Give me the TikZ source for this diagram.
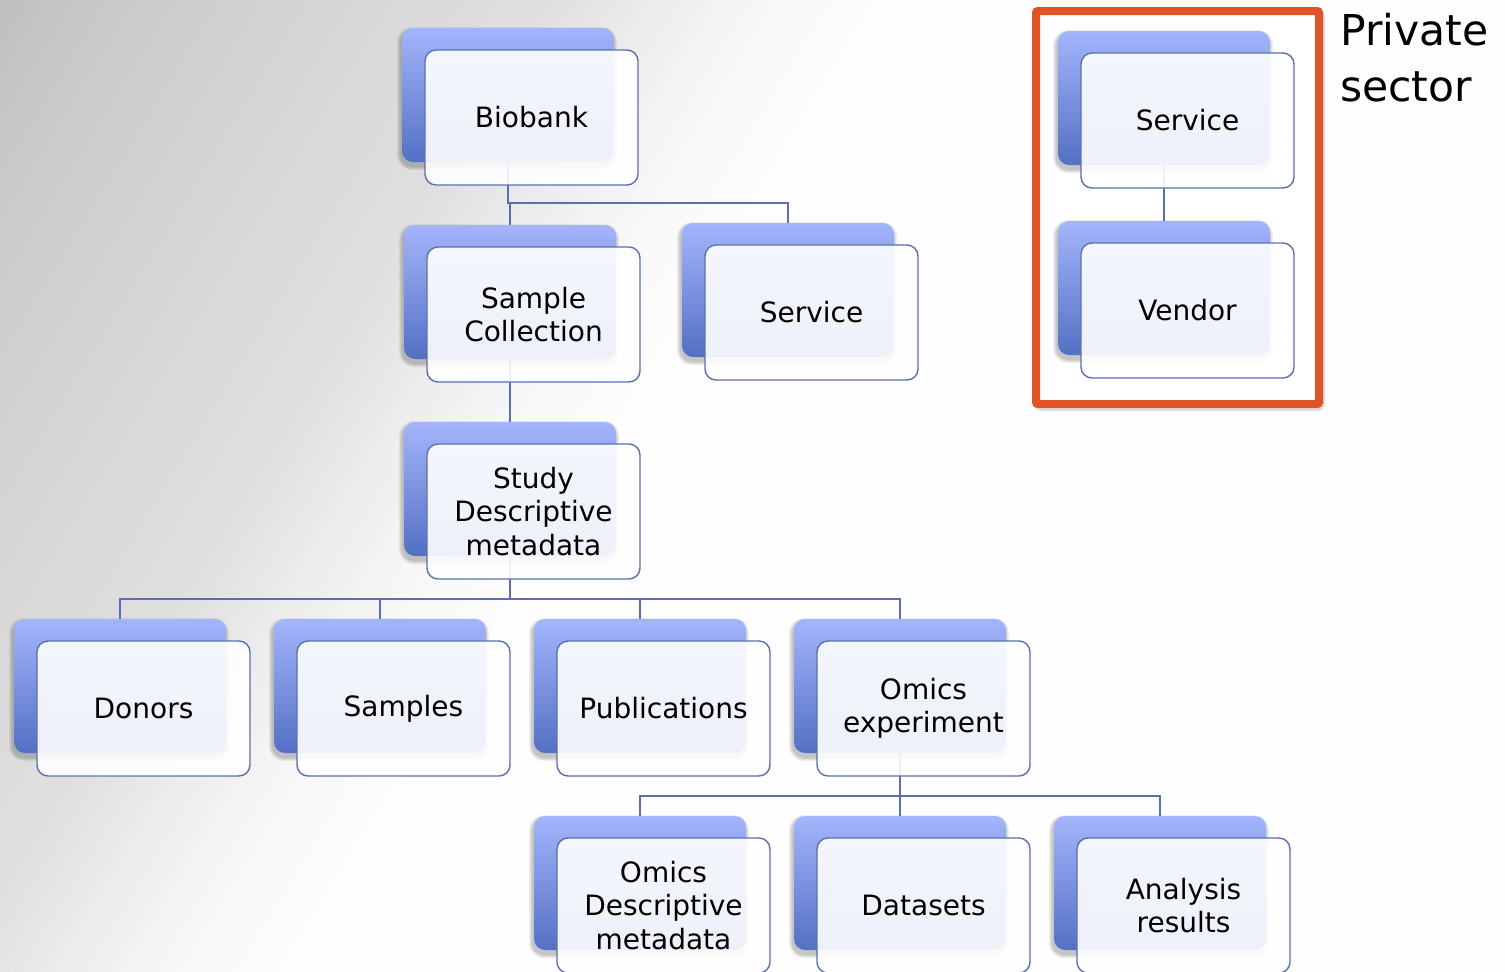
\documentclass[tikz,border=0pt]{standalone}
\usepackage{fontspec}
\setmainfont{DejaVu Sans}

\definecolor{boxedge}{HTML}{5B6FB0}
\definecolor{backtop}{HTML}{A3B5FB}
\definecolor{backbot}{HTML}{5470C4}
\definecolor{framered}{HTML}{DF5427}

\tikzset{
  backbox/.style={anchor=north west, minimum width=212pt, minimum height=134pt,
    inner sep=0pt, outer sep=0pt, rounded corners=11pt,
    top color=backtop, bottom color=backbot},
  cardshadow/.style={fill=black, fill opacity=0.06},
  frontbox/.style={anchor=north west, minimum width=213pt, minimum height=135pt,
    inner sep=0pt, outer sep=0pt, rounded corners=11pt,
    draw=boxedge, line width=1.4pt, fill=white, fill opacity=0.9, text opacity=1,
    align=center, font=\fontsize{28}{33.5}\selectfont},
  link/.style={draw=boxedge, line width=1.6pt},
  frame/.style={anchor=north west, draw=framered, line width=8pt, rounded corners=2pt,
    minimum width=283pt, minimum height=393pt, inner sep=0pt, outer sep=0pt, fill=white},
  frameshadow/.style={draw=black, line width=8pt, rounded corners=3pt, draw opacity=0.12},
}

% rear card with a soft shadow: #1 name, #2/#3 top-left corner
\newcommand\orgback[3]{%
  \foreach \e in {1,2,3,4}{%
    \fill[cardshadow, rounded corners={11pt+\e pt}]
      ({#2-1-\e},{#3+3-\e}) rectangle ({#2+211+\e},{#3+138+\e});
  }
  \node[backbox] (#1-b) at (#2,#3) {};
}
% front card with the label: #1 name, #2/#3 top-left corner of the rear card, #4 label
\newcommand\orgfront[4]{%
  \node[frontbox] (#1) at ({#2+23},{#3+22}) {#4};
}

\begin{document}
\begin{tikzpicture}[x=1pt,y=-1pt]
\useasboundingbox (0,0) rectangle (1505,972);

% page backdrop: grey in the upper left, fading to white towards the lower right
\begin{scope}
  \clip (0,0) rectangle (1505,972);
  \fill[white] (0,0) rectangle (1505,972);
  \begin{scope}[rotate=-31.5]
    \foreach \sa/\ga/\sb/\gb in {0/192/130/205, 130/205/320/216, 320/216/470/224,
                                 470/224/560/237, 560/237/660/248, 660/248/780/255}{
      \foreach \k in {0,...,9}{
        \pgfmathsetmacro\su{\sa+(\sb-\sa)*\k/10}
        \pgfmathtruncatemacro\gv{round(\ga+(\gb-\ga)*\k/10)}
        \fill[fill={rgb,255:red,\gv;green,\gv;blue,\gv}] (\su,-2000) rectangle (2500,2000);
      }
    }
  \end{scope}
\end{scope}

% private sector frame
\draw[frameshadow] (1038,14) rectangle (1321,407);
\node[frame] (privframe) at (1036,11) {};
\node[anchor=north west, inner sep=0pt, align=left,
      font=\fontsize{42.5}{56}\selectfont] (privlabel) at (1340,13) {Private\\sector};

% rear cards
\orgback{bio}{402}{28}
\orgback{samp}{404}{225}
\orgback{svc}{682}{223}
\orgback{study}{404}{422}
\orgback{donors}{14}{619}
\orgback{samples}{274}{619}
\orgback{pubs}{534}{619}
\orgback{omics}{794}{619}
\orgback{omd}{534}{816}
\orgback{data}{794}{816}
\orgback{anal}{1054}{816}
\orgback{psvc}{1058}{31}
\orgback{vendor}{1058}{221}

% connectors, partly covered by the front cards
\draw[link] (bio-b.south) -- ++(0,41) -| (samp-b.north);
\draw[link] (bio-b.south) -- ++(0,41) -| (svc-b.north);
\draw[link] (samp-b.south) -- (study-b.north);
\draw[link] (study-b.south) -- ++(0,43) -| (donors-b.north);
\draw[link] (study-b.south) -- ++(0,43) -| (samples-b.north);
\draw[link] (study-b.south) -- ++(0,43) -| (pubs-b.north);
\draw[link] (study-b.south) -- ++(0,43) -| (omics-b.north);
\draw[link] (omics-b.south) -- ++(0,43) -| (omd-b.north);
\draw[link] (omics-b.south) -- ++(0,43) -| (data-b.north);
\draw[link] (omics-b.south) -- ++(0,43) -| (anal-b.north);
\draw[link] (psvc-b.south) -- (vendor-b.north);

% front cards
\orgfront{bio}{402}{28}{Biobank}
\orgfront{samp}{404}{225}{Sample\\Collection}
\orgfront{svc}{682}{223}{Service}
\orgfront{study}{404}{422}{Study\\Descriptive\\metadata}
\orgfront{donors}{14}{619}{Donors}
\orgfront{samples}{274}{619}{Samples}
\orgfront{pubs}{534}{619}{Publications}
\orgfront{omics}{794}{619}{Omics\\experiment}
\orgfront{omd}{534}{816}{Omics\\Descriptive\\metadata}
\orgfront{data}{794}{816}{Datasets}
\orgfront{anal}{1054}{816}{Analysis\\results}
\orgfront{psvc}{1058}{31}{Service}
\orgfront{vendor}{1058}{221}{Vendor}
\end{tikzpicture}
\end{document}
